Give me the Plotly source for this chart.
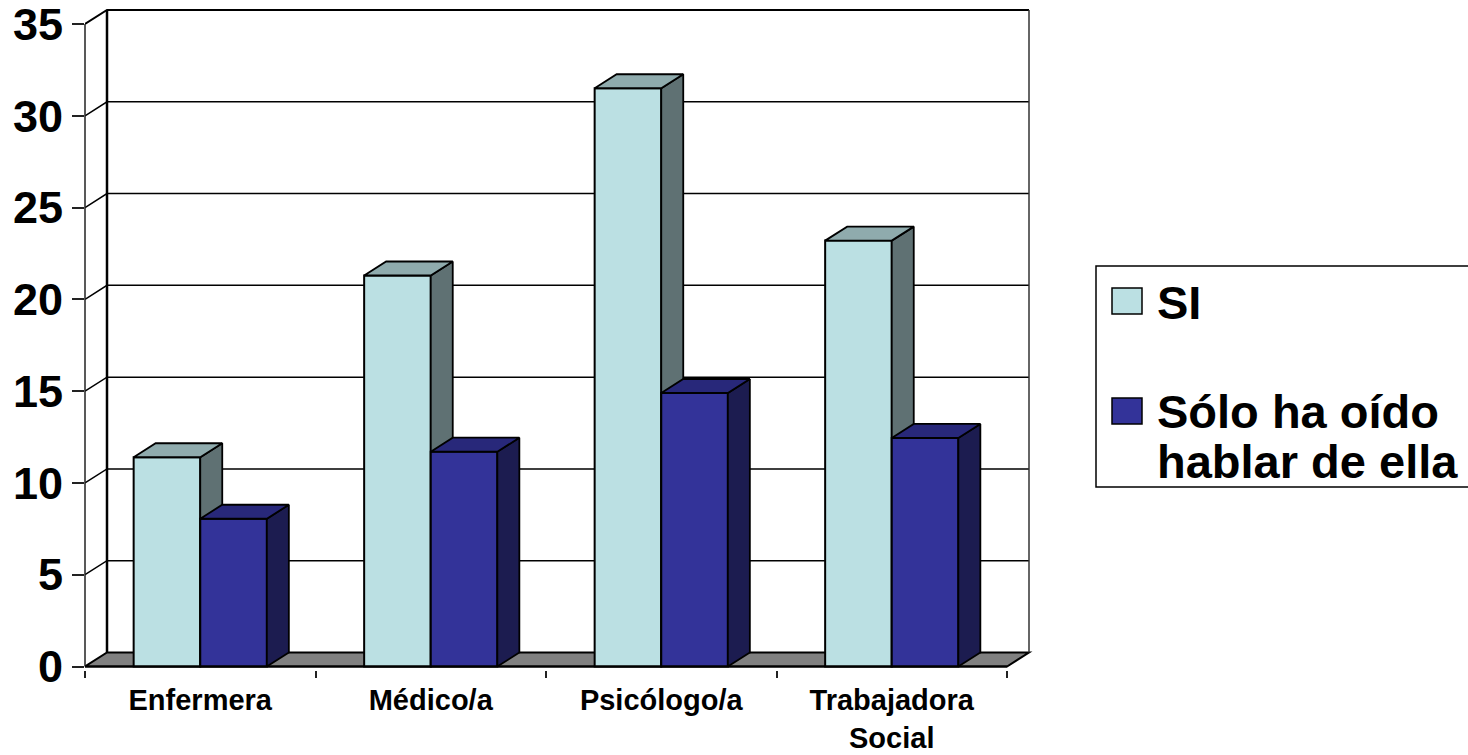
import plotly.graph_objects as go

categories = ["Enfermera", "Médico/a", "Psicólogo/a", "Trabajadora<br>Social"]
series_si_name = "SI"
series_oido_name = "Sólo ha oído hablar de ella"
si_values = [11.4, 21.3, 31.5, 23.2]
oido_values = [8.05, 11.7, 14.9, 12.45]
y_ticks = [0, 5, 10, 15, 20, 25, 30, 35]

FONT = "Liberation Sans"
SI_FRONT, SI_TOP, SI_SIDE = "#BBE0E3", "#8FABAD", "#5F7173"
OI_FRONT, OI_TOP, OI_SIDE = "#333399", "#28287A", "#1C1C50"

W, H = 1468, 755
L, R, T, B = 85, 1034, 5, 670
CAT_PX = 230.5
UNIT_PX = 18.357
Y0_PX = 666.5
xr = [-0.5, -0.5 + (R - L) / CAT_PX]
yr = [-(B - Y0_PX) / UNIT_PX, (Y0_PX - T) / UNIT_PX]
DX = 22 / CAT_PX
DY = 14 / UNIT_PX
BW = 66.6 / CAT_PX
xs = list(range(len(categories)))
XL, XR = -0.5, len(categories) - 0.5
YTOP = y_ticks[-1]


def faces(values, left):
    top_x, top_y, side_x, side_y = [], [], [], []
    for i, v in zip(xs, values):
        a = i + left
        b = a + BW
        top_x += [a, a + DX, b + DX, b, a, None]
        top_y += [v, v + DY, v + DY, v, v, None]
        side_x += [b, b + DX, b + DX, b, b, None]
        side_y += [v, v + DY, DY, 0, v, None]
    return top_x, top_y, side_x, side_y


def series(name, values, left, front, top, side, xa, ya):
    tx, ty, sx, sy = faces(values, left)
    outline = dict(color="black", width=1.8)
    return [
        go.Bar(x=xs, y=values, width=BW, offset=left, name=name, showlegend=False,
               marker=dict(color=front, line=dict(color="black", width=2)), xaxis=xa, yaxis=ya),
        go.Scatter(x=sx, y=sy, mode="lines", fill="toself", fillcolor=side, line=outline,
                   showlegend=False, hoverinfo="skip", xaxis=xa, yaxis=ya),
        go.Scatter(x=tx, y=ty, mode="lines", fill="toself", fillcolor=top, line=outline,
                   showlegend=False, hoverinfo="skip", xaxis=xa, yaxis=ya),
    ]


fig = go.Figure()
fig.add_traces(series(series_si_name, si_values, -BW, SI_FRONT, SI_TOP, SI_SIDE, "x", "y"))
fig.add_traces(series(series_oido_name, oido_values, 0, OI_FRONT, OI_TOP, OI_SIDE, "x2", "y2"))


def px(x):
    return (x - L) / (R - L)


def py(y):
    return (B - y) / (B - T)


shapes = []
# back wall, floor
shapes.append(dict(type="path", xref="x", yref="y", layer="below",
                   path=f"M{XL},0 L{XL + DX},{DY} L{XR + DX},{DY} L{XR},0 Z",
                   fillcolor="#808080", line=dict(color="black", width=2)))
for t in y_ticks[1:]:
    w = 2 if t == YTOP else 1.5
    shapes.append(dict(type="path", xref="x", yref="y", layer="below",
                       path=f"M{XL},{t} L{XL + DX},{t + DY} L{XR + DX},{t + DY}",
                       line=dict(color="black", width=w)))
shapes.append(dict(type="line", xref="x", yref="y", layer="below", x0=XL + DX, x1=XL + DX,
                   y0=DY, y1=YTOP + DY, line=dict(color="black", width=2.5)))
shapes.append(dict(type="line", xref="x", yref="y", layer="below", x0=XR + DX, x1=XR + DX,
                   y0=DY, y1=YTOP + DY, line=dict(color="#333333", width=1.5)))
# front axes
shapes.append(dict(type="line", xref="paper", yref="y", layer="above", x0=0, x1=0,
                   y0=0, y1=YTOP, line=dict(color="#222222", width=1.5)))
shapes.append(dict(type="line", xref="x", yref="y", layer="above", x0=XL, x1=XR,
                   y0=0, y1=0, line=dict(color="black", width=2)))
# legend box and swatches
shapes.append(dict(type="rect", xref="paper", yref="paper", layer="above",
                   x0=px(1096), x1=px(1480), y0=py(487), y1=py(266),
                   line=dict(color="black", width=1.5)))
shapes.append(dict(type="rect", xref="paper", yref="paper", layer="above",
                   x0=px(1112), x1=px(1142), y0=py(314), y1=py(288), fillcolor=SI_FRONT,
                   line=dict(color="black", width=1.5)))
shapes.append(dict(type="rect", xref="paper", yref="paper", layer="above",
                   x0=px(1112), x1=px(1142), y0=py(424), y1=py(398), fillcolor=OI_FRONT,
                   line=dict(color="black", width=1.5)))

leg_font = dict(family=FONT, size=47, color="black", weight=700)
anns = []
for txt, yy in [(series_si_name, 302), ("Sólo ha oído", 411), ("hablar de ella", 461)]:
    anns.append(dict(xref="paper", yref="paper", x=px(1155), y=py(yy), text=txt, showarrow=False,
                     xanchor="left", yanchor="middle", font=leg_font))

fig.update_layout(
    width=W, height=H,
    margin=dict(l=L, r=W - R, t=T, b=H - B, pad=0, autoexpand=False),
    paper_bgcolor="white", plot_bgcolor="rgba(0,0,0,0)",
    showlegend=False, shapes=shapes, annotations=anns,
    xaxis=dict(range=xr, tickmode="array", tickvals=xs, ticktext=categories, ticks="",
               automargin=False, ticklabeloverflow="allow",
               showgrid=False, zeroline=False, showline=False, ticklabelstandoff=10,
               tickfont=dict(family=FONT, size=29, color="black", weight=700),
               minor=dict(tickmode="array", tickvals=[XL + i for i in range(len(xs) + 1)],
                          ticks="outside", ticklen=7, tickwidth=1.5, tickcolor="#222222",
                          showgrid=False)),
    yaxis=dict(range=yr, tickmode="array", tickvals=y_ticks, ticks="outside", ticklen=12,
               automargin=False, ticklabeloverflow="allow",
               tickwidth=1.5, tickcolor="#222222", showgrid=False, zeroline=False, showline=False,
               tickfont=dict(family=FONT, size=45, color="black", weight=700)),
    xaxis2=dict(range=xr, overlaying="x", visible=False, anchor="y2"),
    yaxis2=dict(range=yr, overlaying="y", visible=False, anchor="x2"),
)

fig.write_html("out.html", config={"displayModeBar": False},
               post_script="document.body.style.margin='0';")
